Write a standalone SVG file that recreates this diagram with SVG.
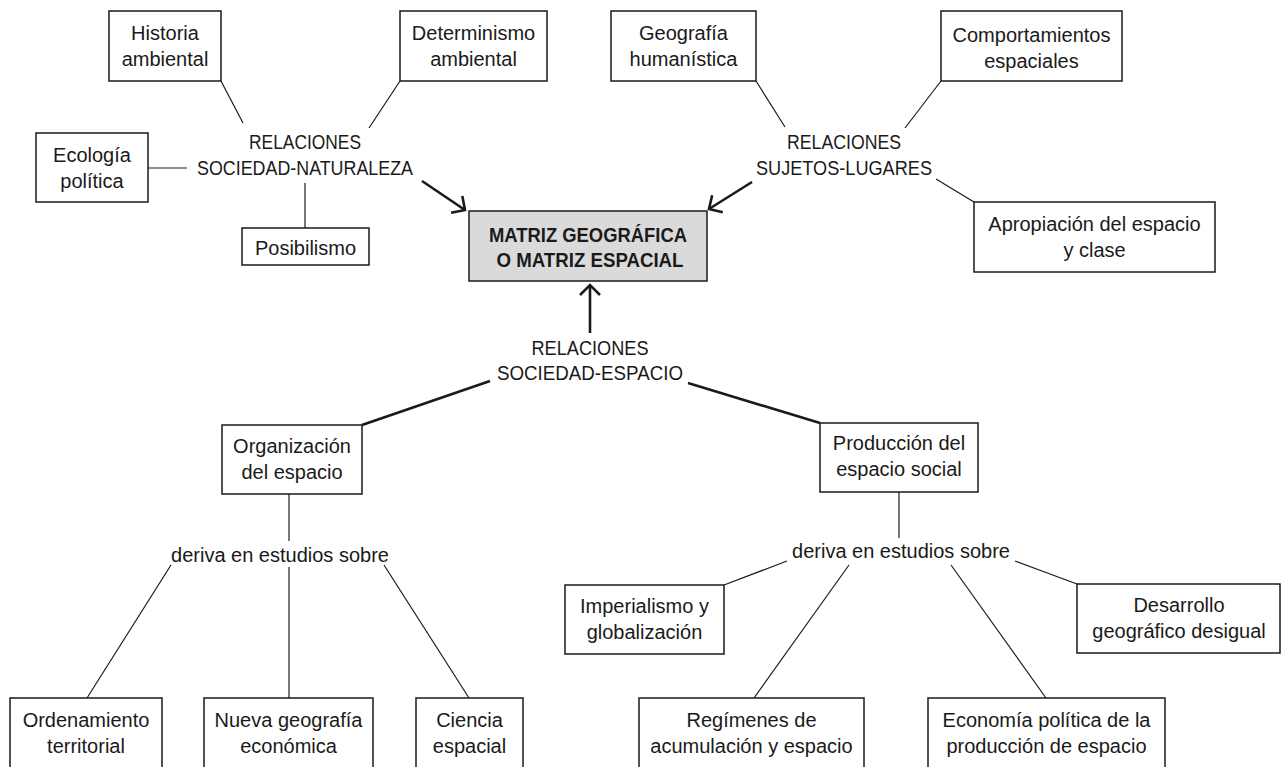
<svg xmlns="http://www.w3.org/2000/svg" width="1281" height="767" viewBox="0 0 1281 767">
<defs>
<style>
text{font-family:"Liberation Sans",Arial,sans-serif;font-size:20px;fill:#1a1a1a;text-anchor:middle}
.b{font-weight:bold}
rect{fill:#fff;stroke:#1a1a1a;stroke-width:1.5}
rect.c{fill:#dadada}
.t{stroke:#1a1a1a;stroke-width:1.2;fill:none}
.k{stroke:#1a1a1a;stroke-width:2.6;fill:none}
</style>
<marker id="arr" markerUnits="userSpaceOnUse" viewBox="-14 -14 16 28" refX="0" refY="0" markerWidth="16" markerHeight="28" orient="auto" overflow="visible">
<path d="M-10,-10 L0,0 L-10,10" fill="none" stroke="#1a1a1a" stroke-width="2.6"/>
</marker>
</defs>
<rect x="0" y="0" width="1281" height="767" style="fill:#fff;stroke:none"/>
<g id="connectors">
<line class="t" x1="221" y1="81" x2="243" y2="123"/>
<line class="t" x1="400" y1="81" x2="369" y2="128"/>
<line class="t" x1="148" y1="168" x2="187" y2="168"/>
<line class="t" x1="305" y1="228" x2="305" y2="183"/>
<line class="k" x1="422" y1="181" x2="465" y2="210" marker-end="url(#arr)"/>
<line class="t" x1="756" y1="81" x2="785" y2="127"/>
<line class="t" x1="941" y1="81" x2="905" y2="128"/>
<line class="t" x1="936" y1="179" x2="974" y2="202"/>
<line class="k" x1="752" y1="182" x2="709" y2="209" marker-end="url(#arr)"/>
<line class="k" x1="590" y1="333" x2="590" y2="285" marker-end="url(#arr)"/>
<line class="k" x1="490" y1="381" x2="362" y2="425"/>
<line class="k" x1="688" y1="383" x2="820" y2="423"/>
<line class="t" x1="289" y1="494" x2="289" y2="541"/>
<line class="t" x1="171" y1="565" x2="87" y2="698"/>
<line class="t" x1="289" y1="567" x2="289" y2="698"/>
<line class="t" x1="384" y1="565" x2="469" y2="698"/>
<line class="t" x1="899" y1="492" x2="899" y2="538"/>
<line class="t" x1="787" y1="561" x2="724" y2="585"/>
<line class="t" x1="849" y1="565" x2="754" y2="698"/>
<line class="t" x1="951" y1="565" x2="1046" y2="698"/>
<line class="t" x1="1015" y1="561" x2="1077" y2="584"/>
</g>
<g id="historia"><rect x="109" y="11" width="112" height="70"/><text x="165" y="40">Historia</text><text x="165" y="66">ambiental</text></g>
<g id="determinismo"><rect x="400" y="11" width="147" height="70"/><text x="473.5" y="40">Determinismo</text><text x="473.5" y="66">ambiental</text></g>
<g id="ecologia"><rect x="36" y="133" width="112" height="69"/><text x="92" y="162">Ecología</text><text x="92" y="188">política</text></g>
<g id="posibilismo"><rect x="242" y="228" width="127" height="37"/><text x="305.5" y="255">Posibilismo</text></g>
<g id="rel-naturaleza"><text x="305" y="149" textLength="112" lengthAdjust="spacingAndGlyphs">RELACIONES</text><text x="305" y="175" textLength="216" lengthAdjust="spacingAndGlyphs">SOCIEDAD-NATURALEZA</text></g>
<g id="geografia-humanistica"><rect x="611" y="11" width="145" height="70"/><text x="683.5" y="40">Geografía</text><text x="683.5" y="66">humanística</text></g>
<g id="comportamientos"><rect x="941" y="11" width="181" height="70"/><text x="1031.5" y="42" textLength="158" lengthAdjust="spacingAndGlyphs">Comportamientos</text><text x="1031.5" y="68">espaciales</text></g>
<g id="rel-sujetos"><text x="844" y="149" textLength="114" lengthAdjust="spacingAndGlyphs">RELACIONES</text><text x="844" y="175" textLength="176" lengthAdjust="spacingAndGlyphs">SUJETOS-LUGARES</text></g>
<g id="apropiacion"><rect x="974" y="202" width="241" height="70"/><text x="1094.5" y="231">Apropiación del espacio</text><text x="1094.5" y="257">y clase</text></g>
<g id="matriz"><rect class="c" x="469" y="211" width="238" height="70"/><text class="b" x="588" y="242" textLength="198" lengthAdjust="spacingAndGlyphs">MATRIZ GEOGRÁFICA</text><text class="b" x="590" y="267" textLength="187" lengthAdjust="spacingAndGlyphs">O MATRIZ ESPACIAL</text></g>
<g id="rel-espacio"><text x="590" y="355" textLength="117" lengthAdjust="spacingAndGlyphs">RELACIONES</text><text x="590" y="380" textLength="186" lengthAdjust="spacingAndGlyphs">SOCIEDAD-ESPACIO</text></g>
<g id="organizacion"><rect x="222" y="425" width="140" height="69"/><text x="292" y="453">Organización</text><text x="292" y="479">del espacio</text></g>
<g id="produccion"><rect x="820" y="423" width="158" height="69"/><text x="899" y="450">Producción del</text><text x="899" y="476">espacio social</text></g>
<g id="deriva-1"><text x="280" y="562">deriva en estudios sobre</text></g>
<g id="deriva-2"><text x="901" y="558">deriva en estudios sobre</text></g>
<g id="imperialismo"><rect x="565" y="585" width="159" height="69"/><text x="644.5" y="613">Imperialismo y</text><text x="644.5" y="639">globalización</text></g>
<g id="desarrollo"><rect x="1077" y="584" width="203" height="69"/><text x="1179" y="612">Desarrollo</text><text x="1179" y="638">geográfico desigual</text></g>
<g id="ordenamiento"><rect x="10" y="698" width="152" height="72"/><text x="86" y="727">Ordenamiento</text><text x="86" y="753">territorial</text></g>
<g id="nueva-geografia"><rect x="204" y="698" width="169" height="72"/><text x="288.5" y="727">Nueva geografía</text><text x="288.5" y="753">económica</text></g>
<g id="ciencia"><rect x="416" y="698" width="107" height="72"/><text x="469.5" y="727">Ciencia</text><text x="469.5" y="753">espacial</text></g>
<g id="regimenes"><rect x="639" y="698" width="225" height="72"/><text x="751.5" y="727">Regímenes de</text><text x="751.5" y="753">acumulación y espacio</text></g>
<g id="economia"><rect x="928" y="698" width="237" height="72"/><text x="1046.5" y="727">Economía política de la</text><text x="1046.5" y="753">producción de espacio</text></g>
</svg>
